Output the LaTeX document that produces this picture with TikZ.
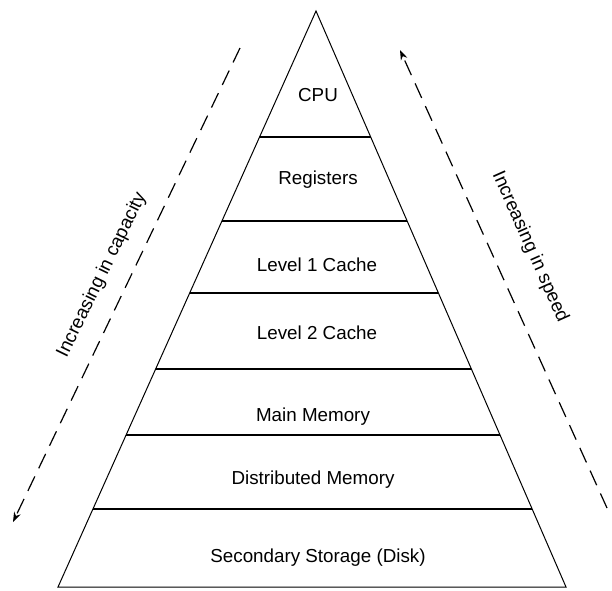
\documentclass[tikz,border=0pt]{standalone}
\usepackage{fontspec}
\setmainfont{Liberation Sans}
\usetikzlibrary{arrows.meta,calc}
\tikzset{
lvl/.style={font=\fontsize{18.8}{21}\selectfont, inner sep=1pt},
sidelbl/.style={font=\fontsize{18.8}{21}\selectfont, inner sep=1pt},
trend/.style={->,>={Stealth[length=10pt,width=7pt]}, dash pattern=on 16pt off 9pt, line width=1.2pt},
}
\begin{document}
\begin{tikzpicture}[x=1pt,y=-1pt,line width=1pt]
\useasboundingbox (0,0) rectangle (612,590);
\coordinate (apex) at (316,11);
\coordinate (bl) at (58,587);
\coordinate (br) at (566,587);
\draw (apex) -- (bl) -- (br) -- cycle;
% level boundaries
\begin{scope}
\clip (apex) -- (bl) -- (br) -- cycle;
\foreach \y in {137,221,293,369,435,509}
  \draw[line width=1.2pt] (0,\y) -- (612,\y);
\end{scope}

\node[lvl] (cpu) at (318,95) {CPU};
\node[lvl] (reg) at (318,180) {Registers};
\node[lvl] (l1) at (317,265) {Level 1 Cache};
\node[lvl] (l2) at (317,333) {Level 2 Cache};
\node[lvl] (mm) at (313,417) {Main Memory};
\node[lvl] (dm) at (313,480) {Distributed Memory};
\node[lvl] (disk) at (318,558) {Secondary Storage (Disk)};

% trends
\coordinate (capTop) at (240,48);
\coordinate (capBot) at (13,522);
\coordinate (spdTop) at (400,50);
\coordinate (spdBot) at (607,508);
\draw[trend] (capTop) -- (capBot);
\draw[trend] (spdBot) -- (spdTop);
\node[sidelbl, rotate=64] (capacity) at (102,275) {Increasing in capacity};
\node[sidelbl, rotate=-66] (speed) at (530,247) {Increasing in speed};
\end{tikzpicture}
\end{document}
